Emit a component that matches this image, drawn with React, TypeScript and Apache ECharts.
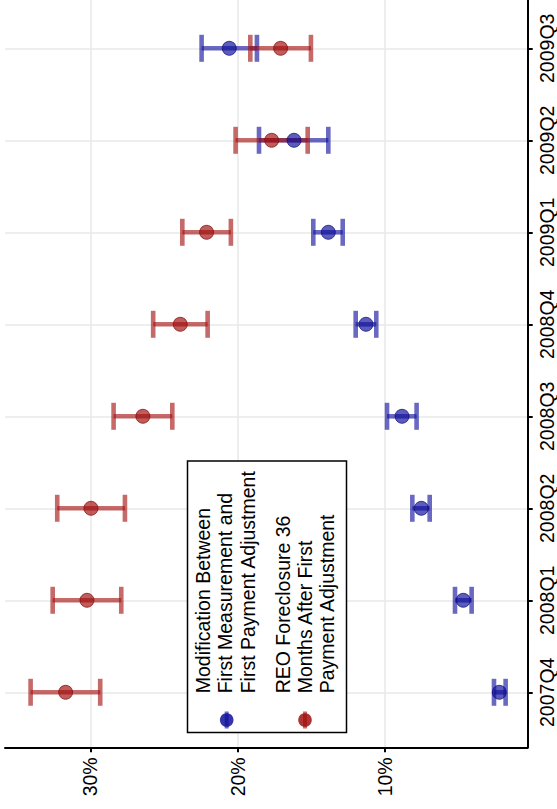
import React, { useEffect, useRef } from "react";
import * as echarts from "echarts";

const categories = ["2007Q4", "2008Q1", "2008Q2", "2008Q3", "2008Q4", "2009Q1", "2009Q2", "2009Q3"];
const modEst = [2.22, 4.67, 7.52, 8.83, 11.28, 13.84, 16.17, 20.57];
const modLo = [1.79, 4.1, 6.95, 7.84, 10.58, 12.86, 13.84, 18.69];
const modHi = [2.58, 5.23, 8.13, 9.85, 11.98, 14.86, 18.55, 22.45];
const reoEst = [31.69, 30.24, 29.97, 26.44, 23.9, 22.11, 17.69, 17.08];
const reoLo = [29.34, 27.91, 27.66, 24.44, 22.04, 20.46, 15.24, 15.02];
const reoHi = [34.07, 32.57, 32.26, 28.43, 25.74, 23.76, 20.14, 19.14];
const valueTicks = [10, 20, 30];
const legendMod = ["Modification Between", "First Measurement and", "First Payment Adjustment"];
const legendReo = ["REO Foreclosure 36", "Months After First", "Payment Adjustment"];

const FONT = "Liberation Sans, Arial, Helvetica, sans-serif";
const FS = 19.5;
const BLUE_BAR = "rgba(20,20,160,0.64)";
const RED_BAR = "rgba(165,20,20,0.64)";
const BLUE_PT = "rgba(15,15,155,0.85)";
const RED_PT = "rgba(160,15,15,0.85)";

function errorSeries(lo: number[], hi: number[], color: string, z: number) {
  return {
    type: "custom",
    z,
    silent: true,
    encode: { x: [1, 2], y: 0 },
    data: lo.map((l, i) => [i, l, hi[i]]),
    renderItem: (params: any, api: any) => {
      const y = api.value(0);
      const a = api.coord([api.value(1), y]);
      const b = api.coord([api.value(2), y]);
      const h = 13.5;
      const st = { stroke: color, lineWidth: 4.6, fill: "none" };
      return {
        type: "group",
        children: [
          { type: "line", shape: { x1: a[0], y1: a[1], x2: b[0], y2: b[1] }, style: st },
          { type: "line", shape: { x1: a[0], y1: a[1] - h, x2: a[0], y2: a[1] + h }, style: st },
          { type: "line", shape: { x1: b[0], y1: b[1] - h, x2: b[0], y2: b[1] + h }, style: st },
        ],
      };
    },
  };
}

export default function App() {
  const ref = useRef<HTMLDivElement>(null);
  useEffect(() => {
    if (!ref.current) return;
    const chart = echarts.init(ref.current, null, { renderer: "svg" });
    const gridColor = "#e8e8e8";
    const legendTexts: any[] = [];
    const xsMod = [203.3, 225, 248.3];
    const xsReo = [282.7, 305, 326.7];
    legendMod.forEach((t, i) =>
      legendTexts.push({
        type: "text",
        x: xsMod[i],
        y: 693.3,
        rotation: Math.PI / 2,
        z: 101,
        style: { text: t, x: 0, y: 0, align: "left", verticalAlign: "middle", fill: "#000", font: `${FS}px ${FONT}` },
      })
    );
    legendReo.forEach((t, i) =>
      legendTexts.push({
        type: "text",
        x: xsReo[i],
        y: 693.3,
        rotation: Math.PI / 2,
        z: 101,
        style: { text: t, x: 0, y: 0, align: "left", verticalAlign: "middle", fill: "#000", font: `${FS}px ${FONT}` },
      })
    );
    const marker = (cx: number, bar: string, pt: string) => [
      { type: "line", z: 101, shape: { x1: cx, y1: 711.5, x2: cx, y2: 728.5 }, style: { stroke: bar, lineWidth: 4 } },
      { type: "circle", z: 102, shape: { cx, cy: 720, r: 6.8 }, style: { fill: pt } },
    ];
    chart.setOption({
      animation: false,
      backgroundColor: "#fff",
      grid: { left: 5, right: 29.3, top: 0, bottom: 61.7, containLabel: false },
      xAxis: {
        type: "value",
        inverse: true,
        min: 0.29,
        max: 35.81,
        axisLine: { show: true, onZero: false, lineStyle: { color: "#000", width: 2 } },
        axisTick: { show: true, length: 5, lineStyle: { color: "#000", width: 2 }, customValues: valueTicks },
        axisLabel: {
          rotate: 90,
          margin: 10,
          color: "#000",
          fontSize: FS,
          fontFamily: FONT,
          customValues: valueTicks,
          formatter: (v: number) => `${Math.round(v)}%`,
        },
        splitLine: { show: false },
      },
      yAxis: {
        type: "value",
        position: "right",
        min: -0.598,
        max: 7.525,
        axisLine: { show: true, onZero: false, lineStyle: { color: "#000", width: 2 } },
        axisTick: { show: true, length: 5, lineStyle: { color: "#000", width: 2 }, customValues: categories.map((_, i) => i) },
        axisLabel: {
          rotate: 90,
          margin: 9,
          color: "#000",
          fontSize: FS,
          fontFamily: FONT,
          customValues: categories.map((_, i) => i),
          formatter: (v: number) => categories[Math.round(v)] ?? "",
        },
        splitLine: { show: false },
      },
      series: [
        {
          type: "scatter",
          z: 0,
          silent: true,
          data: [],
          markLine: {
            z: 0,
            silent: true,
            symbol: "none",
            label: { show: false },
            lineStyle: { color: gridColor, width: 1.5, type: "solid" },
            data: [
              ...valueTicks.map((v) => ({ xAxis: v })),
              ...categories.map((_, i) => ({ yAxis: i })),
            ],
          },
        },
        errorSeries(modLo, modHi, BLUE_BAR, 2),
        errorSeries(reoLo, reoHi, RED_BAR, 2),
        {
          type: "scatter",
          name: "Modification Between First Measurement and First Payment Adjustment",
          z: 3,
          silent: true,
          symbol: "circle",
          symbolSize: 14,
          itemStyle: { color: BLUE_PT, borderColor: "rgba(10,10,120,0.9)", borderWidth: 1 },
          data: modEst.map((v, i) => [v, i]),
        },
        {
          type: "scatter",
          name: "REO Foreclosure 36 Months After First Payment Adjustment",
          z: 3,
          silent: true,
          symbol: "circle",
          symbolSize: 14,
          itemStyle: { color: RED_PT, borderColor: "rgba(130,10,10,0.9)", borderWidth: 1 },
          data: reoEst.map((v, i) => [v, i]),
        },
      ],
      graphic: [
        {
          type: "rect",
          z: 100,
          shape: { x: 187.5, y: 461, width: 159, height: 271.5 },
          style: { fill: "#fff", stroke: "#000", lineWidth: 1.5 },
        },
        ...legendTexts,
        ...marker(226.7, BLUE_BAR, BLUE_PT),
        ...marker(305, RED_BAR, RED_PT),
      ],
    });
    return () => chart.dispose();
  }, []);
  return (
    <div
      ref={ref}
      style={{ position: "absolute", left: 0, top: 0, width: 557, height: 809 }}
    />
  );
}
